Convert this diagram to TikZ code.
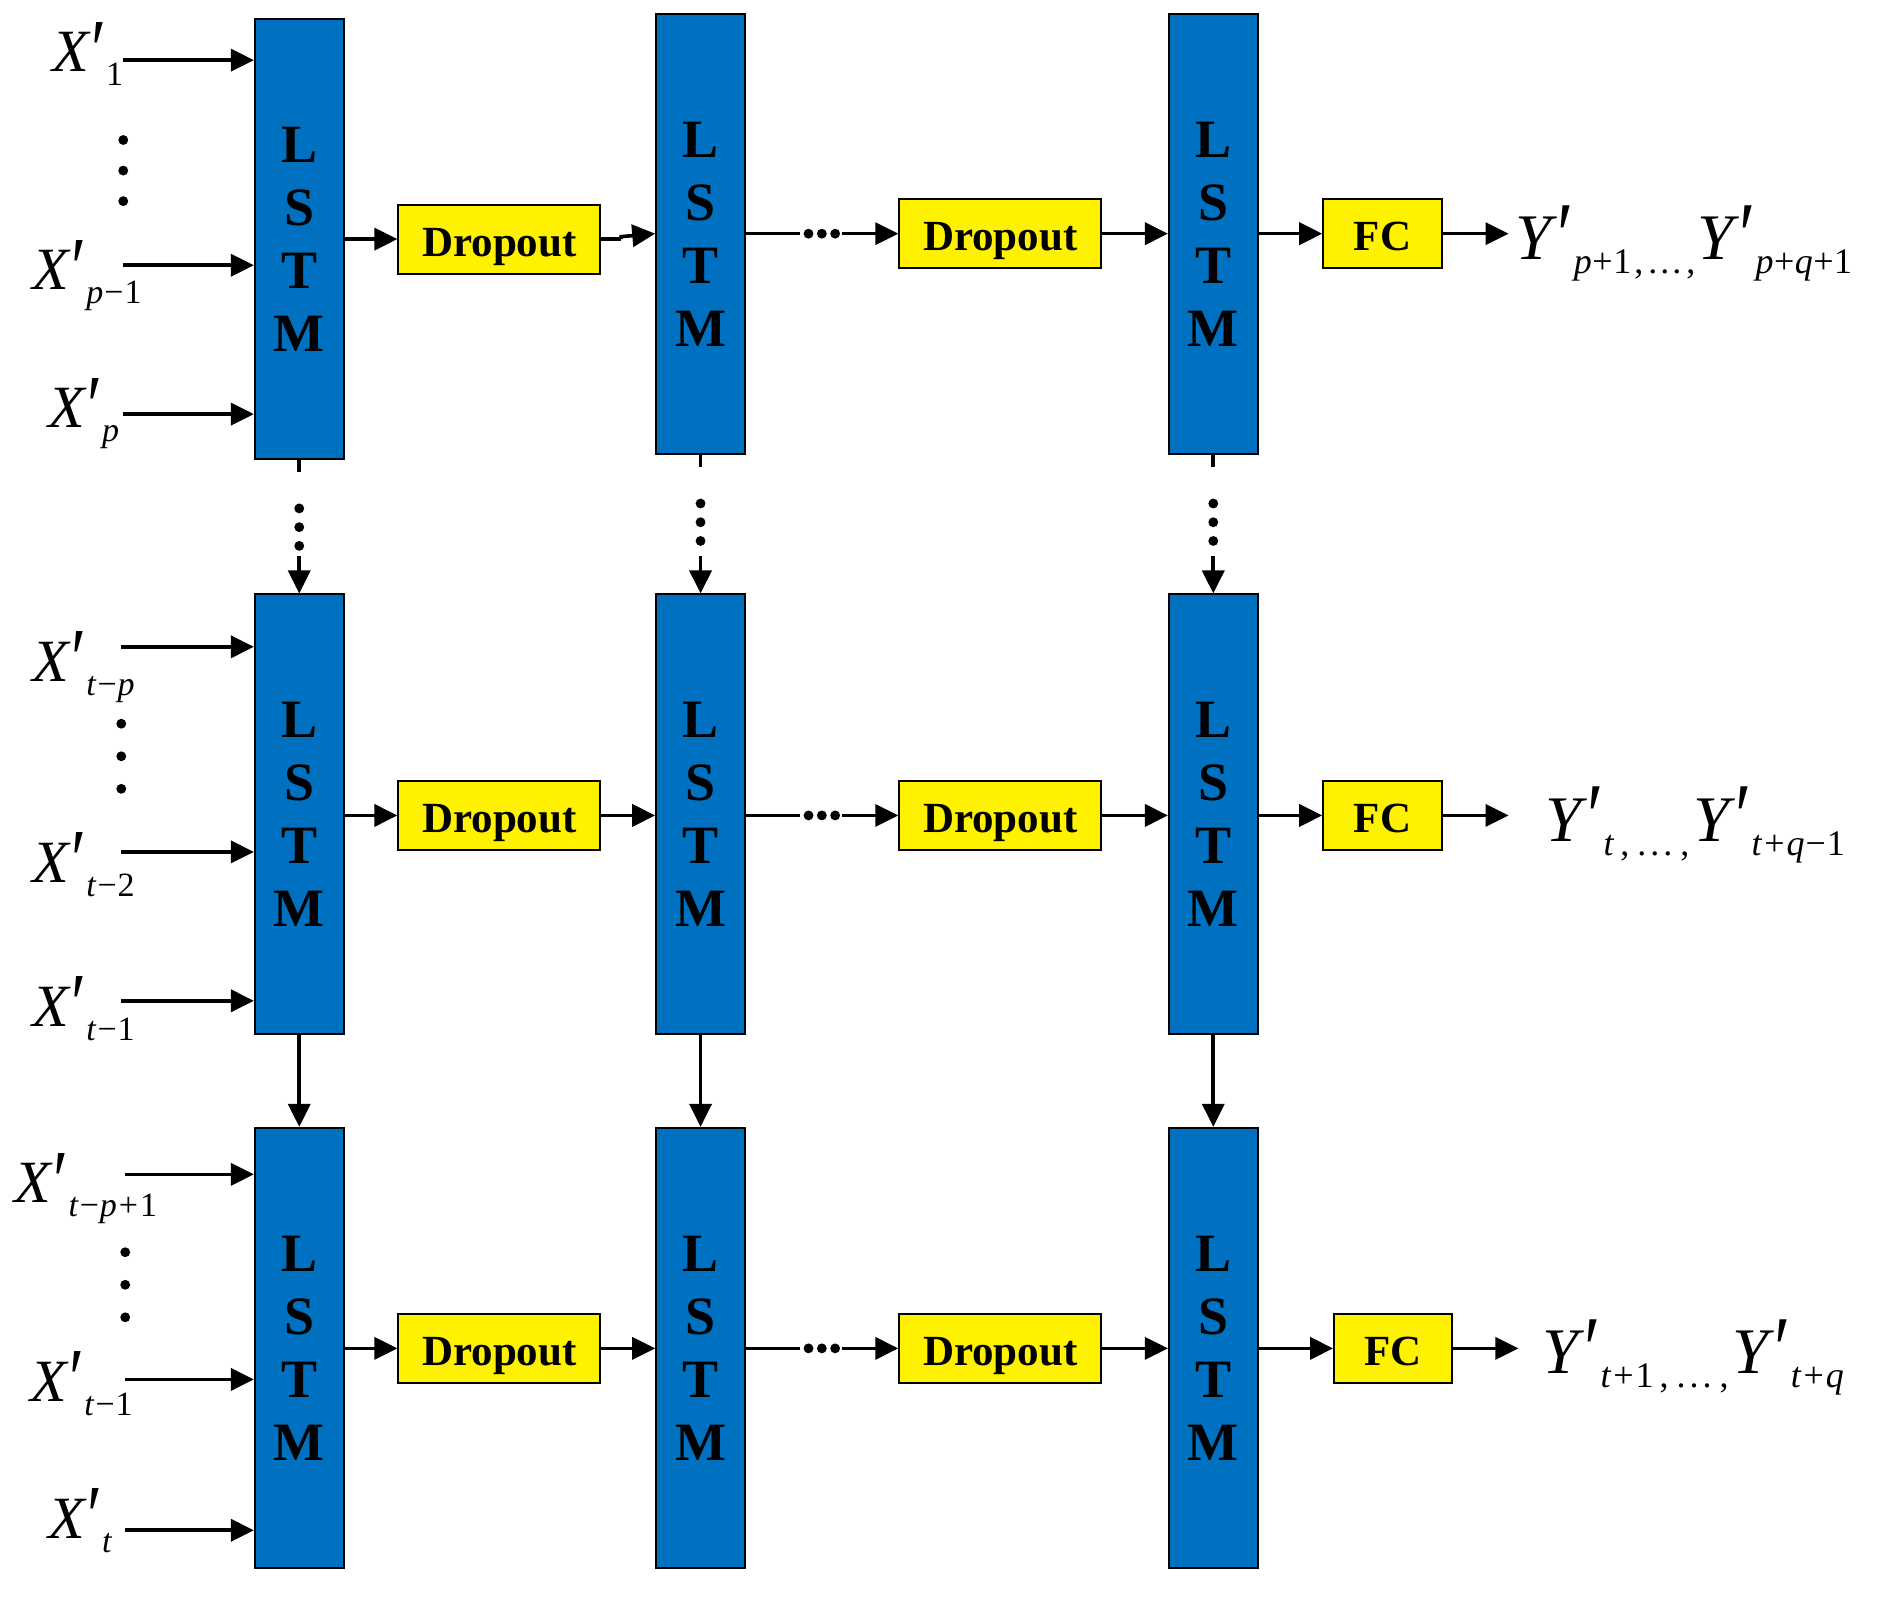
\documentclass[tikz,border=0pt]{standalone}
\usepackage{fontspec}
\usepackage{graphicx}
\setmainfont{Liberation Serif}
\usetikzlibrary{arrows.meta,calc}
\definecolor{lstmblue}{RGB}{0,112,192}
\newcommand{\mysub}[1]{\raisebox{-14pt}{\fontsize{34}{34}\selectfont #1}}
\newcommand{\mysubY}[1]{\raisebox{-14pt}{\fontsize{36}{36}\selectfont #1}}
\newcommand{\mypr}{\raisebox{-0.12em}{\scalebox{1.15}[1.45]{′}}}
\newcommand{\mypl}{\kern2pt+\kern2pt}
\newcommand{\myplt}{\kern0.5pt+\kern0.5pt}
\newcommand{\mymi}{\kern1pt−\kern1pt}
\newcommand{\xlab}[1]{{\fontsize{60}{60}\selectfont\textit{X}\mypr\mysub{#1}}}
\newcommand{\ylab}[1]{{\fontsize{65}{65}\selectfont\textit{Y}\mypr\mysubY{#1}}}
\newcommand{\mydots}{\kern6pt,\kern8pt.\kern4pt.\kern4pt.\kern8pt,\kern4pt}
\newcommand{\mydotsA}{\kern3pt,\kern5pt.\kern3pt.\kern3pt.\kern5pt,\kern2pt}
\begin{document}
\begin{tikzpicture}[x=0.986pt,y=-0.986pt,
  lstm/.style={draw=black, line width=2pt, fill=lstmblue, minimum width=88.7pt,
    minimum height=440pt, inner sep=0pt, align=center,
    font=\fontsize{54}{63}\selectfont\bfseries},
  drop/.style={draw=black, line width=2pt, fill=yellow, minimum width=202pt,
    minimum height=69pt, inner sep=0pt, text height=34pt, text depth=0pt,
    font=\fontsize{43}{43}\selectfont\bfseries},
  fcbox/.style={drop, minimum width=118.3pt},
  conn/.style={line width=3.6pt, -{Triangle[length=23pt,width=22pt]}},
  plain/.style={line width=3.6pt},
  lab/.style={anchor=base west, inner sep=0pt}
]
\useasboundingbox (0,0) rectangle (1918.86,1622.72);

% ---------- LSTM boxes ----------
\node[lstm] (l11) at (303.5,242.5) {L\\S\\T\\M};
\node[lstm] (l12) at (710.5,237.5) {L\\S\\T\\M};
\node[lstm] (l13) at (1230.5,237.5) {L\\S\\T\\M};
\node[lstm] (l21) at (303.5,826) {L\\S\\T\\M};
\node[lstm] (l22) at (710.5,826) {L\\S\\T\\M};
\node[lstm] (l23) at (1230.5,826) {L\\S\\T\\M};
\node[lstm] (l31) at (303.5,1367) {L\\S\\T\\M};
\node[lstm] (l32) at (710.5,1367) {L\\S\\T\\M};
\node[lstm] (l33) at (1230.5,1367) {L\\S\\T\\M};

% ---------- Dropout / FC ----------
\node[drop] (d11) at (506.5,242.5) {Dropout};
\node[drop] (d12) at (1014.5,237) {Dropout};
\node[fcbox] (f1) at (1402,237) {FC};
\node[drop] (d21) at (506.5,827) {Dropout};
\node[drop] (d22) at (1014.5,827) {Dropout};
\node[fcbox] (f2) at (1402,827) {FC};
\node[drop] (d31) at (506.5,1367.5) {Dropout};
\node[drop] (d32) at (1014.5,1367.5) {Dropout};
\node[fcbox] (f3) at (1413,1367.5) {FC};

% ---------- input labels ----------
\node[lab] (x11) at (53,73) {\xlab{1}};
\node[lab] (x12) at (33,294) {\xlab{\textit{p}\mymi1}};
\node[lab] (x13) at (49,434) {\xlab{\textit{p}}};
\node[lab] (x21) at (33,691) {\xlab{\textit{t}\mymi\textit{p}}};
\node[lab] (x22) at (33,895) {\xlab{\textit{t}\mymi2}};
\node[lab] (x23) at (33,1041) {\xlab{\textit{t}\mymi1}};
\node[lab] (x31) at (15,1220) {\xlab{\textit{t}\mymi\textit{p}\mypl1}};
\node[lab] (x32) at (31,1421) {\xlab{\textit{t}\mymi1}};
\node[lab] (x33) at (49,1560) {\xlab{\textit{t}}};

% ---------- input arrows ----------
\coordinate (i11) at (125,61);
\coordinate (i12) at (125,269);
\coordinate (i13) at (125,420);
\coordinate (i21) at (123,656);
\coordinate (i22) at (123,864);
\coordinate (i23) at (123,1015);
\coordinate (i31) at (127,1191);
\coordinate (i32) at (127,1399);
\coordinate (i33) at (127,1552);
\foreach \i/\l in {i11/l11,i12/l11,i13/l11,i21/l21,i22/l21,i23/l21,i31/l31,i32/l31,i33/l31}
  \draw[conn] (\i) -- (\i -| \l.west);

% vertical ellipses between inputs
\foreach \xx/\ya/\yb/\yc in {125/142/173/204, 123/734/767/800, 127/1270/1303/1336}{
  \fill (\xx,\ya) circle (5);
  \fill (\xx,\yb) circle (5);
  \fill (\xx,\yc) circle (5);
}

% ---------- horizontal chains ----------
% row 1
\draw[conn] (l11.east |- d11.west) -- (d11.west);
\coordinate (k1) at ($(d11.east)+(20,0)$);
\draw[plain] (d11.east) -- (k1);
\draw[conn] (k1) -- ++(0,-2.5) -- (l12.west |- d12.west);
\coordinate (ea1) at (811,237);
\coordinate (eb1) at (854,237);
\draw[plain] (l12.east |- ea1) -- (ea1);
\draw[conn] (eb1) -- (d12.west);
\draw[conn] (d12.east) -- (l13.west |- d12.east);
\draw[conn] (l13.east |- f1.west) -- (f1.west);
\coordinate (o1) at (1530,237);
\draw[conn] (f1.east) -- (o1);
% row 2
\draw[conn] (l21.east |- d21.west) -- (d21.west);
\draw[conn] (d21.east) -- (l22.west |- d21.east);
\coordinate (ea2) at (811,827);
\coordinate (eb2) at (854,827);
\draw[plain] (l22.east |- ea2) -- (ea2);
\draw[conn] (eb2) -- (d22.west);
\draw[conn] (d22.east) -- (l23.west |- d22.east);
\draw[conn] (l23.east |- f2.west) -- (f2.west);
\coordinate (o2) at (1530,827);
\draw[conn] (f2.east) -- (o2);
% row 3
\draw[conn] (l31.east |- d31.west) -- (d31.west);
\draw[conn] (d31.east) -- (l32.west |- d31.east);
\coordinate (ea3) at (811,1367.5);
\coordinate (eb3) at (854,1367.5);
\draw[plain] (l32.east |- ea3) -- (ea3);
\draw[conn] (eb3) -- (d32.west);
\draw[conn] (d32.east) -- (l33.west |- d32.east);
\draw[conn] (l33.east |- f3.west) -- (f3.west);
\coordinate (o3) at (1540,1367.5);
\draw[conn] (f3.east) -- (o3);
% horizontal ellipsis dots
\foreach \yy in {237,827,1367.5}{
  \fill (820,\yy) circle (5);
  \fill (833.5,\yy) circle (5);
  \fill (847,\yy) circle (5);
}

% ---------- output labels ----------
\node[lab] (y1) at (1537,263) {\ylab{\textit{p}\myplt1\mydotsA}\ylab{\textit{p}\myplt\textit{q}\myplt1}};
\node[lab] (y2) at (1567,853) {\ylab{\textit{t}\mydots}\ylab{\textit{t}\mypl\textit{q}\mymi1}};
\node[lab] (y3) at (1564,1393) {\ylab{\textit{t}\mypl1\mydots}\ylab{\textit{t}\mypl\textit{q}}};

% ---------- vertical connectors ----------
\foreach \a/\b in {l11/l21,l12/l22,l13/l23}{
  \draw[plain] (\a.south) -- ++(0,12);
  \fill ($(\a.south)+(0,49)$) circle (5);
  \fill ($(\a.south)+(0,68)$) circle (5);
  \fill ($(\a.south)+(0,87)$) circle (5);
  \draw[conn] ($(\b.north)+(0,-38)$) -- (\b.north);
}
\draw[conn] (l21.south) -- (l31.north);
\draw[conn] (l22.south) -- (l32.north);
\draw[conn] (l23.south) -- (l33.north);
\end{tikzpicture}
\end{document}
